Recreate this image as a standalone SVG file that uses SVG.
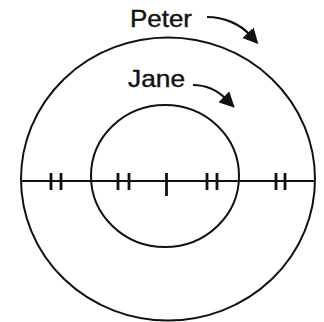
<svg xmlns="http://www.w3.org/2000/svg" width="324" height="322" viewBox="0 0 324 322">
<defs>
<style>
.c{fill:none;stroke:#111;stroke-width:2}
.t{stroke:#111;stroke-width:2.8}
.lbl{font-family:"Liberation Sans",Arial,sans-serif;font-size:24px;fill:#111;stroke:#111;stroke-width:0.4}
.a{fill:none;stroke:#111;stroke-width:2.2}
</style>
<marker id="ah" viewBox="0 0 10 10" refX="2" refY="5" markerWidth="7" markerHeight="7" orient="auto" markerUnits="strokeWidth">
<path d="M0,0 L10,5 L0,10 z" fill="#111"/>
</marker>
</defs>
<rect width="324" height="322" fill="#fff"/>
<g id="outer-circle"><ellipse class="c" cx="168" cy="179" rx="147" ry="141.5"/></g>
<g id="inner-circle"><ellipse class="c" cx="165" cy="176" rx="74" ry="71"/></g>
<g id="diameter">
<line class="c" x1="21" y1="181" x2="315" y2="181"/>
<line class="t" x1="51" y1="173" x2="51" y2="190"/>
<line class="t" x1="61" y1="173" x2="61" y2="190"/>
<line class="t" x1="118" y1="173" x2="118" y2="190"/>
<line class="t" x1="129" y1="173" x2="129" y2="190"/>
<line class="t" x1="166.5" y1="173" x2="166.5" y2="196"/>
<line class="t" x1="207" y1="173" x2="207" y2="190"/>
<line class="t" x1="217" y1="173" x2="217" y2="190"/>
<line class="t" x1="276" y1="173" x2="276" y2="190"/>
<line class="t" x1="285" y1="173" x2="285" y2="190"/>
</g>
<g id="peter"><text class="lbl" x="130" y="27" textLength="62" lengthAdjust="spacingAndGlyphs">Peter</text></g>
<g id="jane"><text class="lbl" x="128" y="87" textLength="57" lengthAdjust="spacingAndGlyphs">Jane</text></g>
<g id="connectors">
<path class="a" d="M207,17 C224,17 240,24 250,35" marker-end="url(#ah)"/>
<path class="a" d="M193,85 C207,85 218,91 226,99" marker-end="url(#ah)"/>
</g>
</svg>
